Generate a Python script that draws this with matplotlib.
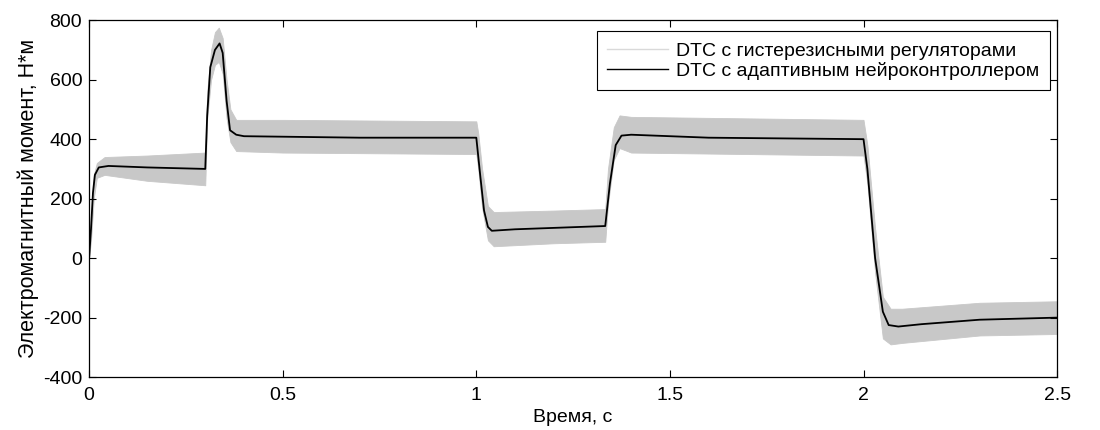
import numpy as np
import matplotlib
matplotlib.use('Agg')
from matplotlib import pyplot as plt
from matplotlib.lines import Line2D

# gray band: DTC with hysteresis controllers (envelope)
t_hyst = [0.0, 0.005, 0.012, 0.02, 0.04, 0.15, 0.30, 0.305, 0.315, 0.325, 0.335,
          0.345, 0.355, 0.365, 0.38, 0.5, 1.0, 1.005, 1.015, 1.03, 1.045, 1.2,
          1.333, 1.34, 1.355, 1.37, 1.4, 1.7, 2.0, 2.01, 2.03, 2.05, 2.07, 2.1,
          2.3, 2.5]
hyst_upper = [0, 120, 280, 320, 340, 345, 355, 560, 700, 760, 775,
              740, 600, 500, 465, 465, 460, 420, 300, 175, 155, 160,
              165, 300, 440, 480, 475, 470, 465, 380, 100, -130, -170, -170,
              -150, -145]
hyst_lower = [0, 60, 200, 270, 280, 260, 245, 470, 600, 650, 660,
              620, 470, 390, 360, 355, 350, 300, 170, 60, 40, 50,
              55, 180, 330, 370, 355, 350, 345, 250, -50, -270, -290, -285,
              -260, -255]

# black line: DTC with adaptive neurocontroller
t_neuro = [0.0, 0.005, 0.01, 0.015, 0.025, 0.05, 0.15, 0.30, 0.305, 0.313, 0.325,
           0.337, 0.345, 0.355, 0.364, 0.38, 0.4, 0.7, 1.0, 1.01, 1.02, 1.03,
           1.04, 1.1, 1.333, 1.345, 1.36, 1.375, 1.4, 1.6, 2.0, 2.01, 2.03,
           2.05, 2.065, 2.09, 2.15, 2.3, 2.5]
neuro = [0, 100, 220, 280, 305, 310, 305, 300, 480, 642, 700,
         722, 690, 530, 430, 415, 410, 405, 405, 280, 160, 105,
         92, 97, 108, 250, 380, 412, 415, 405, 400, 300, 0,
         -180, -225, -230, -222, -207, -200]

xticks = [0, 0.5, 1, 1.5, 2, 2.5]
yticks = [-400, -200, 0, 200, 400, 600, 800]
legend_labels = ['DTC с гистерезисными регуляторами', 'DTC с адаптивным нейроконтроллером']

plt.rcParams['font.family'] = ['Liberation Sans', 'DejaVu Sans']
plt.rcParams['font.size'] = 14
plt.rcParams['axes.unicode_minus'] = False

fig = plt.figure(figsize=(11, 4.3), dpi=100)
ax = fig.add_axes([0.081, 0.123, 0.880, 0.830])

gray = '#c8c8c8'
ax.fill_between(t_hyst, hyst_lower, hyst_upper, color=gray, linewidth=0.6,
                edgecolor=gray)
ax.plot(t_neuro, neuro, color='black', linewidth=1.3)

ax.set_xlim(0, 2.5)
ax.set_ylim(-400, 800)
ax.set_xticks(xticks)
ax.set_xticklabels(['0', '0.5', '1', '1.5', '2', '2.5'])
ax.set_yticks(yticks)
ax.tick_params(direction='in', top=True, right=True, length=5, width=0.8)
ax.tick_params(axis='x', pad=7)
ax.tick_params(axis='y', pad=5)
for s in ax.spines.values():
    s.set_linewidth(0.9)

ax.set_xlabel('Время, с', labelpad=4)
ax.set_ylabel('Электромагнитный момент, Н*м', fontsize=15.5, labelpad=3)

handles = [Line2D([], [], color='#d9d9d9', linewidth=1),
           Line2D([], [], color='black', linewidth=1)]
leg = ax.legend(handles, legend_labels, loc='upper right',
                bbox_to_anchor=(0.993, 0.969), fancybox=False, framealpha=1,
                edgecolor='black', borderpad=0.55, handlelength=3.1,
                labelspacing=0.1, handletextpad=0.45, borderaxespad=0)
leg.get_frame().set_linewidth(0.8)

fig.savefig('out.png', dpi=100)
